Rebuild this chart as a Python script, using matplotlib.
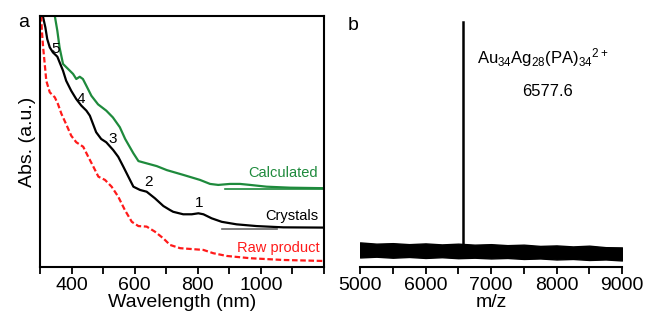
import numpy as np
import matplotlib
matplotlib.use("Agg")
import matplotlib.pyplot as plt
from matplotlib.ticker import MultipleLocator

plt.rcParams["font.family"] = ["Liberation Sans", "DejaVu Sans"]
plt.rcParams["mathtext.default"] = "regular"

# panel a: UV-vis spectra (absorbance, arbitrary units)
crystals_nm = [309, 317, 323, 331, 341, 355, 362, 373, 383, 399, 415, 431, 447, 458, 468,
               478, 494, 510, 532, 548, 564, 580, 596, 617, 638, 664, 691, 712, 722, 754,
               781, 802, 818, 844, 876, 923, 987, 1071, 1200]
crystals_abs = [1.0, 0.955, 0.908, 0.875, 0.855, 0.838, 0.816, 0.782, 0.742, 0.702, 0.669,
                0.643, 0.623, 0.603, 0.570, 0.537, 0.510, 0.497, 0.466, 0.439, 0.400, 0.360,
                0.320, 0.307, 0.300, 0.274, 0.243, 0.227, 0.220, 0.210, 0.210, 0.214, 0.210,
                0.194, 0.180, 0.170, 0.163, 0.158, 0.157]

calc_nm = [347, 355, 362, 373, 389, 405, 415, 426, 436, 447, 463, 484, 510, 531, 553, 570,
           596, 612, 638, 670, 702, 754, 807, 839, 865, 902, 934, 966, 1018, 1092, 1200]
calc_abs = [1.0, 0.941, 0.875, 0.809, 0.789, 0.769, 0.749, 0.758, 0.749, 0.722, 0.682,
            0.648, 0.623, 0.596, 0.557, 0.510, 0.453, 0.422, 0.413, 0.402, 0.386, 0.367,
            0.347, 0.331, 0.327, 0.331, 0.331, 0.327, 0.320, 0.316, 0.314]

raw_nm = [304, 306, 310, 315, 320, 331, 347, 357, 368, 384, 399, 415, 437, 453, 469, 485,
          506, 527, 548, 569, 591, 612, 638, 664, 691, 712, 744, 786, 818, 849, 892, 966,
          1071, 1200]
raw_abs = [1.0, 0.941, 0.875, 0.809, 0.742, 0.696, 0.676, 0.649, 0.610, 0.566, 0.523,
           0.497, 0.479, 0.439, 0.400, 0.360, 0.347, 0.320, 0.280, 0.227, 0.180, 0.163,
           0.161, 0.141, 0.114, 0.088, 0.075, 0.071, 0.068, 0.055, 0.044, 0.035, 0.028,
           0.024]

peak_labels = ["1", "2", "3", "4", "5"]
peak_nm = [805, 643, 532, 431, 348]
peak_y = [0.254, 0.340, 0.509, 0.669, 0.868]

# short baselines under the curves
crystals_base_nm = [877, 1050]
crystals_base_y = [0.151, 0.151]
calc_base_nm = [886, 1200]
calc_base_y = [0.311, 0.311]

# panel b: ESI mass spectrum
peak_mz = 6577.6
peak_int = 0.976
noise_mz = [5000, 5250, 5500, 5750, 6000, 6250, 6500, 6750, 7000, 7250, 7500, 7750,
            8000, 8250, 8500, 8750, 9000]
noise_hi = [0.098, 0.093, 0.095, 0.091, 0.094, 0.090, 0.093, 0.089, 0.091, 0.087, 0.089,
            0.084, 0.086, 0.082, 0.085, 0.079, 0.078]
noise_lo = [0.038, 0.041, 0.037, 0.040, 0.036, 0.039, 0.035, 0.037, 0.034, 0.036, 0.032,
            0.034, 0.030, 0.032, 0.028, 0.030, 0.026]

green = "#1e8a3c"
red = "#ff1a1a"

fig = plt.figure(figsize=(6.46, 3.22), dpi=100)
ax1 = fig.add_axes([0.0619, 0.1708, 0.4396, 0.7795])
ax2 = fig.add_axes([0.5573, 0.1708, 0.4056, 0.7795])

# --- panel a ---
ax1.plot(crystals_base_nm, crystals_base_y, color="#666666", lw=1.2)
ax1.plot(calc_base_nm, calc_base_y, color=green, lw=1.2)
ax1.plot(calc_nm, calc_abs, color=green, lw=1.6)
ax1.plot(crystals_nm, crystals_abs, color="black", lw=1.6)
ax1.plot(raw_nm, raw_abs, color=red, lw=1.6, ls=(0, (2.5, 1.2)))
for lab, x, y in zip(peak_labels, peak_nm, peak_y):
    ax1.text(x, y, lab, fontsize=11, ha="center", va="center")
ax1.text(1182, 0.357, "Calculated", color=green, fontsize=10.5, ha="right", va="baseline")
ax1.text(1182, 0.187, "Crystals", color="black", fontsize=10.5, ha="right", va="baseline")
ax1.text(1187, 0.061, "Raw product", color=red, fontsize=10.5, ha="right", va="baseline")

ax1.set_xlim(300, 1200)
ax1.set_ylim(0, 1.0)
ax1.xaxis.set_minor_locator(MultipleLocator(100))
ax1.set_xticks([400, 600, 800, 1000])
ax1.set_yticks([])
ax1.tick_params(axis="x", which="both", direction="out", length=5, width=1.3, labelsize=14, pad=2)
for s in ax1.spines.values():
    s.set_linewidth(1.5)
ax1.set_xlabel("Wavelength (nm)", fontsize=14, labelpad=0)
ax1.set_ylabel("Abs. (a.u.)", fontsize=14, labelpad=3)
fig.text(0.037, 0.929, "a", fontsize=14, ha="center", va="center")

# --- panel b ---
ax2.fill_between(noise_mz, noise_lo, noise_hi, color="black", lw=1.0)
ax2.plot([peak_mz, peak_mz], [0.06, peak_int], color="black", lw=1.8)
ax2.text(6790, 0.81, r"Au$_{34}$Ag$_{28}$(PA)$_{34}$$^{2+}$", fontsize=12, ha="left", va="baseline")
ax2.text(7855, 0.70, "6577.6", fontsize=12, ha="center", va="center")

ax2.set_xlim(5000, 9000)
ax2.set_ylim(0, 1.0)
ax2.xaxis.set_major_locator(MultipleLocator(1000))
ax2.xaxis.set_minor_locator(MultipleLocator(500))
ax2.set_yticks([])
ax2.tick_params(axis="x", which="both", direction="out", length=5, width=1.3, labelsize=14, pad=2)
for k in ["left", "right", "top"]:
    ax2.spines[k].set_visible(False)
ax2.spines["bottom"].set_linewidth(1.5)
ax2.set_xlabel("m/z", fontsize=14, labelpad=0)
fig.text(0.547, 0.922, "b", fontsize=14, ha="center", va="center")

fig.savefig("out.png", dpi=100)
